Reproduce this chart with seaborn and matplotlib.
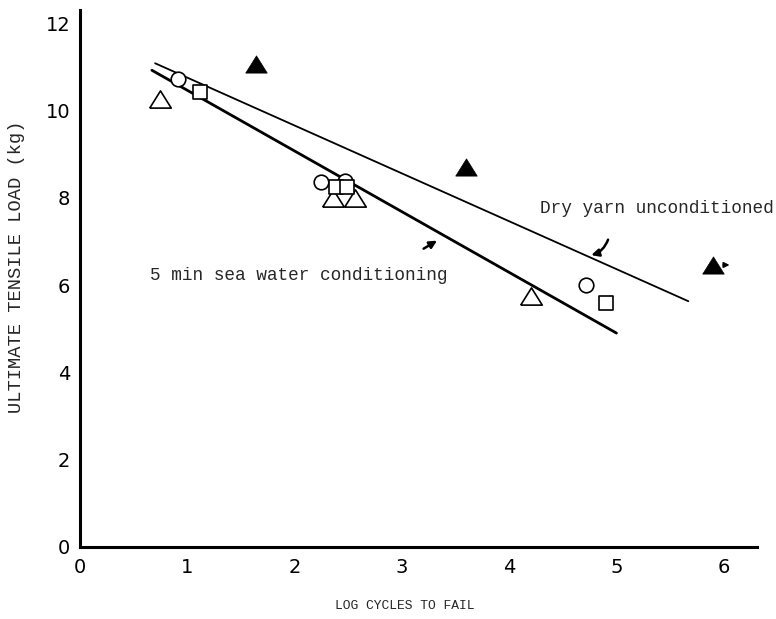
import matplotlib
matplotlib.use("Agg")
import matplotlib.pyplot as plt
import seaborn as sns

# Dry yarn, unconditioned (filled triangles)
dry_x = [1.64, 3.60, 5.90]
dry_y = [11.06, 8.70, 6.46]

# 5 min sea water conditioning: three specimen groups
circle_x = [0.91, 2.25, 2.47, 4.72]
circle_y = [10.73, 8.36, 8.38, 6.00]
square_x = [1.12, 2.39, 2.49, 4.90]
square_y = [10.42, 8.24, 8.24, 5.59]
tri_x = [0.75, 2.36, 2.56, 4.20]
tri_y = [10.26, 7.99, 7.99, 5.75]

# Fitted lines (end points)
dry_fit_x = [0.70, 5.67]
dry_fit_y = [11.08, 5.63]
sea_fit_x = [0.67, 5.00]
sea_fit_y = [10.92, 4.90]

x_ticks = [0, 1, 2, 3, 4, 5, 6]
y_ticks = [0, 2, 4, 6, 8, 10, 12]

sns.set_style("white")
plt.rcParams["font.family"] = ["DejaVu Sans"]

fig = plt.figure(figsize=(7.76, 6.19), dpi=100)
ax = fig.add_axes([80 / 776, 72 / 619, 677 / 776, 537 / 619])

sns.lineplot(x=dry_fit_x, y=dry_fit_y, ax=ax, color="black", lw=1.3)
sns.lineplot(x=sea_fit_x, y=sea_fit_y, ax=ax, color="black", lw=2.0)

mono = "Liberation Mono"
tri_marker = [(-1, -0.8), (1, -0.8), (0, 0.8), (-1, -0.8)]

sns.scatterplot(x=dry_x, y=dry_y, ax=ax, marker=tri_marker, s=15.5 ** 2,
                color="black", edgecolor="black", linewidth=0.5, zorder=5)
sns.scatterplot(x=tri_x, y=tri_y, ax=ax, marker=tri_marker, s=15.5 ** 2,
                facecolor="white", edgecolor="black", linewidth=1.2, zorder=4)
sns.scatterplot(x=circle_x, y=circle_y, ax=ax, marker="o", s=10.5 ** 2,
                facecolor="white", edgecolor="black", linewidth=1.2, zorder=4)
sns.scatterplot(x=square_x, y=square_y, ax=ax, marker="s", s=10.5 ** 2,
                facecolor="white", edgecolor="black", linewidth=1.2, zorder=4)

# run-out arrow on the last dry yarn point
ax.annotate("", xy=(6.08, dry_y[2]), xytext=(5.97, dry_y[2]),
            arrowprops=dict(arrowstyle="-|>", color="black", lw=1.2,
                            mutation_scale=8))

ax.text(4.29, 7.76, "Dry yarn unconditioned", family=mono, fontsize=12.8,
        va="center", ha="left")
ax.annotate("", xy=(4.74, 6.67), xytext=(4.93, 7.10),
            arrowprops=dict(arrowstyle="-|>", color="black", lw=1.8,
                            mutation_scale=11,
                            connectionstyle="arc3,rad=-0.3"))

ax.text(0.65, 6.23, "5 min sea water conditioning", family=mono, fontsize=12.8,
        va="center", ha="left")
ax.annotate("", xy=(3.35, 7.05), xytext=(3.18, 6.80),
            arrowprops=dict(arrowstyle="-|>", color="black", lw=1.8,
                            mutation_scale=11))

ax.set_xlim(0, 6.31)
ax.set_ylim(0, 12.3)
ax.set_xticks(x_ticks)
ax.set_yticks(y_ticks)
ax.set_xticklabels([str(t) for t in x_ticks])
ax.set_yticklabels([str(t) for t in y_ticks])
ax.tick_params(axis="both", direction="inout", length=12, width=1.4,
               labelsize=14, colors="black")
ax.tick_params(axis="x", pad=2)
ax.tick_params(axis="y", pad=1)

sns.despine(ax=ax)
for side in ("left", "bottom"):
    ax.spines[side].set_linewidth(2.2)
    ax.spines[side].set_color("black")

fig.text(405 / 776, 1 - 606 / 619, "LOG CYCLES TO FAIL", family=mono,
         fontsize=9.4, ha="center", va="center")
fig.text(17 / 776, 1 - 267 / 619, "ULTIMATE TENSILE LOAD (kg)", family=mono,
         fontsize=13.5, ha="center", va="center", rotation=90)

fig.savefig("out.png", dpi=100, facecolor="white")
